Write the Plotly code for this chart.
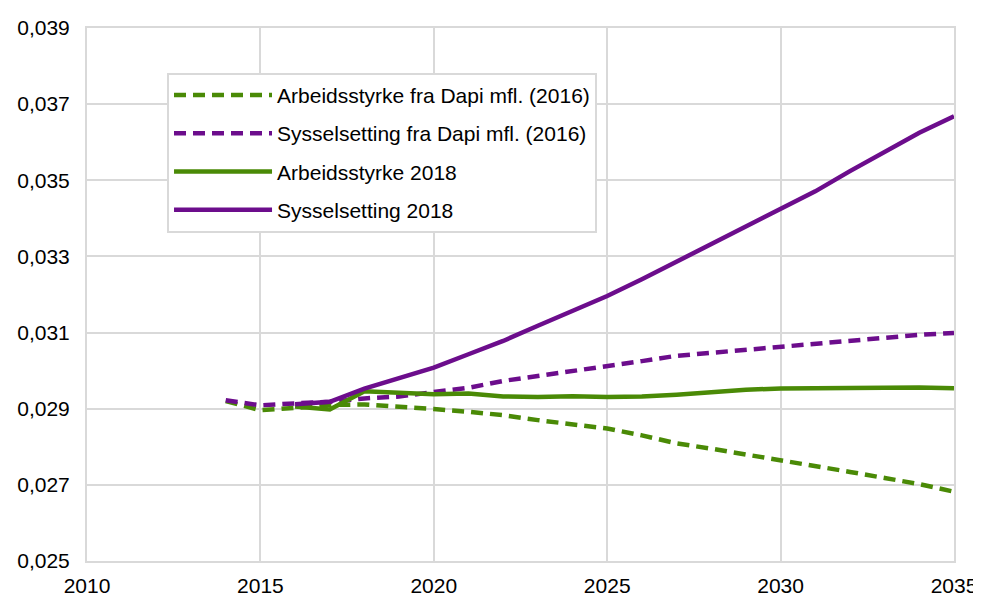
import plotly.graph_objects as go

# Years
years_dapi = list(range(2014, 2036))
years_2018 = list(range(2016, 2036))

# Arbeidsstyrke / Sysselsetting fra Dapi mfl. (2016)
arb_dapi = [0.02920, 0.02896, 0.02902, 0.02910, 0.02911, 0.02906, 0.02899, 0.02892,
            0.02883, 0.02870, 0.02859, 0.02848, 0.02830, 0.02809, 0.02795, 0.02780,
            0.02767, 0.02752, 0.02734, 0.02718, 0.02702, 0.02682]
sys_dapi = [0.02922, 0.02909, 0.02914, 0.02918, 0.02927, 0.02932, 0.02944, 0.02955,
            0.02973, 0.02986, 0.02997, 0.03011, 0.03025, 0.03039, 0.03047, 0.03056,
            0.03063, 0.03071, 0.03080, 0.03087, 0.03094, 0.03099]

# 2018-framskrivinger
arb_2018 = [0.02906, 0.02898, 0.02946, 0.02941, 0.02938, 0.02940, 0.02932, 0.02931,
            0.02933, 0.02931, 0.02932, 0.02937, 0.02944, 0.02950, 0.02953, 0.02953,
            0.02954, 0.02955, 0.02956, 0.02954]
sys_2018 = [0.02912, 0.02918, 0.02953, 0.02982, 0.03008, 0.03043, 0.03078, 0.03118,
            0.03157, 0.03196, 0.03240, 0.03286, 0.03332, 0.03379, 0.03427, 0.03471,
            0.03524, 0.03576, 0.03625, 0.03668]

y_ticks = [0.025, 0.027, 0.029, 0.031, 0.033, 0.035, 0.037, 0.039]
x_ticks = [2010, 2015, 2020, 2025, 2030, 2035]

GREEN = "#4a8a06"
PURPLE = "#6c0d8c"
GRID = "#d9d9d9"

fig = go.Figure()
series = [
    ("Arbeidsstyrke fra Dapi mfl. (2016)", years_dapi, arb_dapi, GREEN, "12px,7px"),
    ("Sysselsetting fra Dapi mfl. (2016)", years_dapi, sys_dapi, PURPLE, "12px,7px"),
    ("Arbeidsstyrke 2018", years_2018, arb_2018, GREEN, "solid"),
    ("Sysselsetting 2018", years_2018, sys_2018, PURPLE, "solid"),
]
for i, (name, xs, ys, col, dash) in enumerate(series):
    fig.add_trace(go.Scatter(x=xs, y=ys, name=name, mode="lines", legendgroup=str(i),
                             line=dict(color=col, width=4.5, dash=dash)))

fig.update_xaxes(range=[2010, 2035], tickvals=x_ticks, showgrid=True, gridcolor=GRID,
                 gridwidth=2, showline=True, linecolor=GRID, linewidth=2, mirror=True,
                 zeroline=False, ticks="", automargin=False, ticklabelstandoff=5,
                 tickfont=dict(size=21, color="#000"))
fig.update_yaxes(range=[0.025, 0.039], tickvals=y_ticks, tickformat=".3f", showgrid=True,
                 gridcolor=GRID, gridwidth=2, showline=True, linecolor=GRID, linewidth=2,
                 mirror=True, zeroline=False, ticks="", ticklabelstandoff=11,
                 automargin=False, tickfont=dict(size=21, color="#000"))

# page body has an 8px margin, so the figure is a bit smaller than the window
fig.update_layout(
    width=973, height=588,
    margin=dict(l=79, r=27, t=20, b=35),
    plot_bgcolor="white", paper_bgcolor="white",
    separators=",.",
    font=dict(family="Liberation Sans, Arial, sans-serif", color="#000"),
    legend=dict(x=0.0923, y=0.916, xanchor="left", yanchor="top",
                bgcolor="white", bordercolor=GRID, borderwidth=2, itemwidth=98,
                font=dict(size=21), tracegroupgap=8),
)

fig.write_html("out.html")
